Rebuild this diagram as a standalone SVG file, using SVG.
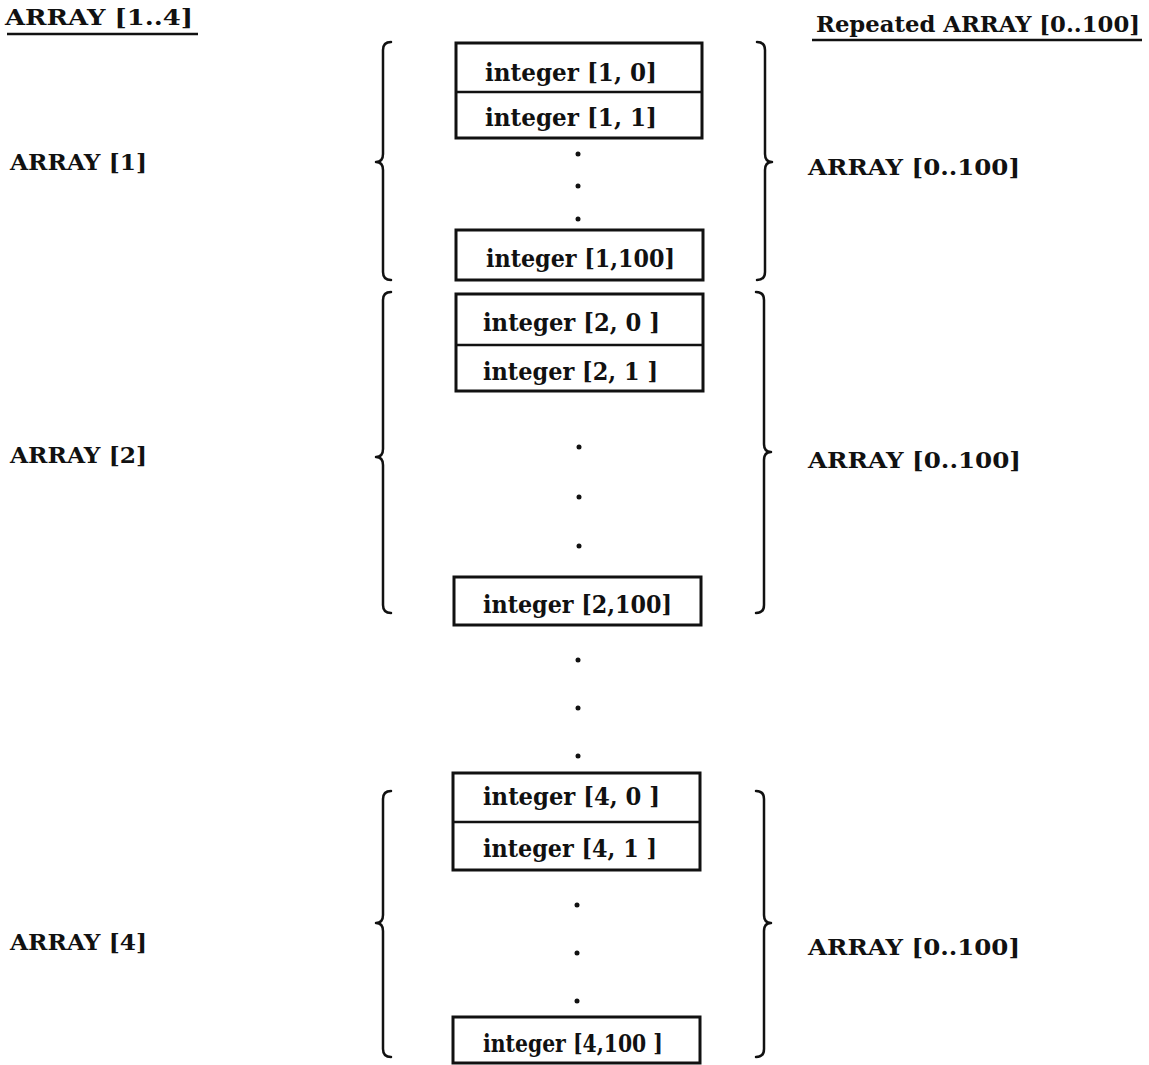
<svg xmlns="http://www.w3.org/2000/svg" width="1149" height="1065" viewBox="0 0 1149 1065">
<style>
  text { font-family: "DejaVu Serif", "Liberation Serif", serif; font-weight: bold; fill: #111; }
  .lbl { font-size: 21.5px; }
  .cell { font-size: 23.5px; }
  .box { fill: #fff; stroke: #111; stroke-width: 3; }
  .div { stroke: #111; stroke-width: 2.5; }
  .brace { fill: none; stroke: #111; stroke-width: 2.5; stroke-linecap: round; stroke-linejoin: round; }
  .ul { stroke: #111; stroke-width: 2.5; }
  .dot { fill: #111; }
</style>
<rect width="1149" height="1065" fill="#fff"/>

<g id="headers">
  <text class="lbl" x="5" y="25" textLength="188" lengthAdjust="spacingAndGlyphs">ARRAY [1..4]</text>
  <line class="ul" x1="7" y1="34" x2="198" y2="34"/>
  <text class="lbl" x="816" y="32" textLength="324" lengthAdjust="spacingAndGlyphs">Repeated ARRAY [0..100]</text>
  <line class="ul" x1="812" y1="40" x2="1142" y2="40"/>
</g>

<g id="labels">
  <text class="lbl" x="10" y="170" textLength="137" lengthAdjust="spacingAndGlyphs">ARRAY [1]</text>
  <text class="lbl" x="10" y="463" textLength="137" lengthAdjust="spacingAndGlyphs">ARRAY [2]</text>
  <text class="lbl" x="10" y="950" textLength="137" lengthAdjust="spacingAndGlyphs">ARRAY [4]</text>
  <text class="lbl" x="808" y="175" textLength="212" lengthAdjust="spacingAndGlyphs">ARRAY [0..100]</text>
  <text class="lbl" x="808" y="468" textLength="213" lengthAdjust="spacingAndGlyphs">ARRAY [0..100]</text>
  <text class="lbl" x="808" y="955" textLength="212" lengthAdjust="spacingAndGlyphs">ARRAY [0..100]</text>
</g>

<g id="group1">
  <g id="cell-1-0-1">
    <rect class="box" x="456" y="43" width="246" height="95"/>
    <line class="div" x1="456" y1="92" x2="702" y2="92"/>
    <text class="cell" x="485" y="81" textLength="172" lengthAdjust="spacingAndGlyphs">integer [1, 0]</text>
    <text class="cell" x="485" y="126" textLength="172" lengthAdjust="spacingAndGlyphs">integer [1, 1]</text>
  </g>
  <circle class="dot" cx="578" cy="154" r="2.5"/>
  <circle class="dot" cx="578" cy="186" r="2.5"/>
  <circle class="dot" cx="578" cy="219" r="2.5"/>
  <g id="cell-1-100">
    <rect class="box" x="456" y="230" width="247" height="50"/>
    <text class="cell" x="486" y="267" textLength="189" lengthAdjust="spacingAndGlyphs">integer [1,100]</text>
  </g>
</g>

<g id="group2">
  <g id="cell-2-0-1">
    <rect class="box" x="456" y="294" width="247" height="97"/>
    <line class="div" x1="456" y1="345" x2="703" y2="345"/>
    <text class="cell" x="483" y="331" textLength="177" lengthAdjust="spacingAndGlyphs">integer [2, 0 ]</text>
    <text class="cell" x="483" y="380" textLength="175" lengthAdjust="spacingAndGlyphs">integer [2, 1 ]</text>
  </g>
  <circle class="dot" cx="579" cy="447" r="2.5"/>
  <circle class="dot" cx="579" cy="497" r="2.5"/>
  <circle class="dot" cx="579" cy="546" r="2.5"/>
  <g id="cell-2-100">
    <rect class="box" x="454" y="577" width="247" height="48"/>
    <text class="cell" x="483" y="613" textLength="189" lengthAdjust="spacingAndGlyphs">integer [2,100]</text>
  </g>
</g>

<g id="between">
  <circle class="dot" cx="578" cy="660" r="2.5"/>
  <circle class="dot" cx="578" cy="708" r="2.5"/>
  <circle class="dot" cx="578" cy="756" r="2.5"/>
</g>

<g id="group4">
  <g id="cell-4-0-1">
    <rect class="box" x="453" y="773" width="247" height="97"/>
    <line class="div" x1="453" y1="822" x2="700" y2="822"/>
    <text class="cell" x="483" y="805" textLength="177" lengthAdjust="spacingAndGlyphs">integer [4, 0 ]</text>
    <text class="cell" x="483" y="857" textLength="174" lengthAdjust="spacingAndGlyphs">integer [4, 1 ]</text>
  </g>
  <circle class="dot" cx="577" cy="905" r="2.5"/>
  <circle class="dot" cx="577" cy="953" r="2.5"/>
  <circle class="dot" cx="577" cy="1001" r="2.5"/>
  <g id="cell-4-100">
    <rect class="box" x="453" y="1017" width="247" height="46"/>
    <text class="cell" x="483" y="1052" textLength="180" lengthAdjust="spacingAndGlyphs">integer [4,100 ]</text>
  </g>
</g>

<g id="connectors">
  <path class="brace" d="M391 42 Q383 42 383 50 L383 154 Q383 162 376 162 Q383 162 383 170 L383 272 Q383 280 391 280"/>
  <path class="brace" d="M757 42 Q765 42 765 50 L765 154 Q765 162 772 162 Q765 162 765 170 L765 272 Q765 280 757 280"/>
  <path class="brace" d="M391 292 Q383 292 383 300 L383 449 Q383 457 376 457 Q383 457 383 465 L383 605 Q383 613 391 613"/>
  <path class="brace" d="M756 292 Q764 292 764 300 L764 444 Q764 452 771 452 Q764 452 764 460 L764 605 Q764 613 756 613"/>
  <path class="brace" d="M391 791 Q383 791 383 799 L383 915 Q383 923 376 923 Q383 923 383 931 L383 1049 Q383 1057 391 1057"/>
  <path class="brace" d="M756 791 Q764 791 764 799 L764 915 Q764 923 771 923 Q764 923 764 931 L764 1049 Q764 1057 756 1057"/>
</g>
</svg>
